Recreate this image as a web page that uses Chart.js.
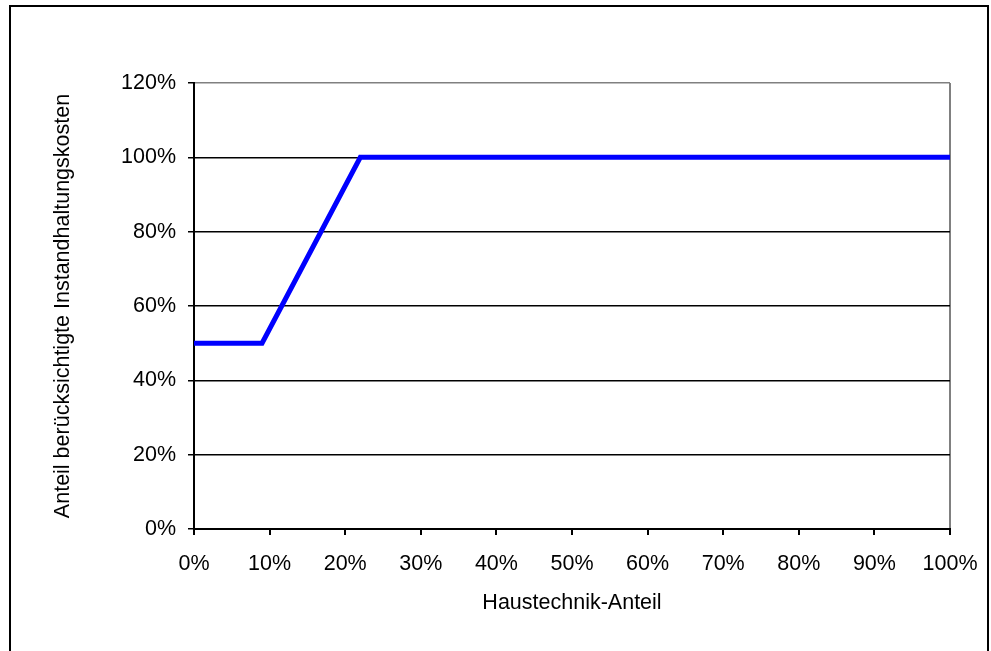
<!DOCTYPE html>
<html>
<head>
<meta charset="utf-8">
<script src="https://cdn.jsdelivr.net/npm/chart.js@4/dist/chart.umd.min.js"></script>
<style>
  html, body { margin: 0; padding: 0; background: #fff; overflow: hidden; }
  #wrap { position: relative; width: 991px; height: 651px; }
  #frame { position: absolute; left: 9px; top: 5px; width: 980px; height: 660px; border: 2px solid #000; box-sizing: border-box; pointer-events: none; }
  canvas { position: absolute; left: 0; top: 0; }
</style>
</head>
<body>
<div id="wrap">
  <canvas id="c" width="991" height="651"></canvas>
  <div id="frame"></div>
</div>
<script>
// Haustechnik-Anteil (x, %) and berücksichtigter Anteil der Instandhaltungskosten (y, %)
const haustechnikAnteil = [0, 9, 22, 100];
const kostenAnteil = [50, 50, 100, 100];

const xTicks = [0, 10, 20, 30, 40, 50, 60, 70, 80, 90, 100];
const yTicks = [0, 20, 40, 60, 80, 100, 120];

const xTitle = 'Haustechnik-Anteil';
const yTitle = 'Anteil berücksichtigte Instandhaltungskosten';

const font = { family: '"Liberation Sans", Arial, sans-serif', size: 21.5 };

const points = haustechnikAnteil.map((x, i) => ({ x, y: kostenAnteil[i] }));

new Chart(document.getElementById('c'), {
  type: 'line',
  data: {
    datasets: [{
      data: points,
      borderColor: '#0000ff',
      borderWidth: 5,
      borderJoinStyle: 'miter',
      pointRadius: 0,
      tension: 0,
      fill: false
    }]
  },
  options: {
    responsive: false,
    animation: false,
    events: [],
    layout: { padding: { left: 0, right: 41, top: 83, bottom: 0 } },
    plugins: { legend: { display: false }, tooltip: { enabled: false } },
    scales: {
      x: {
        type: 'linear',
        min: 0, max: 100,
        afterBuildTicks: s => { s.ticks = xTicks.map(v => ({ value: v })); },
        afterFit: s => { s.height = 122; s.paddingRight = 0; s.paddingLeft = 0; },
        ticks: {
          color: '#000', font, padding: 16,
          maxRotation: 0, autoSkip: false,
          callback: v => v + '%'
        },
        grid: {
          color: c => (c.tick && c.tick.value === 100) ? '#808080' : 'rgba(0,0,0,0)',
          tickColor: '#000',
          tickLength: 6,
          lineWidth: 2
        },
        border: { color: '#000', width: 2 },
        title: { display: true, text: xTitle, color: '#000', font, padding: { top: 0, bottom: 35 } }
      },
      y: {
        min: 0, max: 120,
        afterBuildTicks: s => { s.ticks = yTicks.map(v => ({ value: v })); },
        afterFit: s => { s.width = 194; s.paddingTop = 0; s.paddingBottom = 0; },
        ticks: {
          color: '#000', font, padding: 12,
          autoSkip: false,
          callback: v => v + '%'
        },
        grid: {
          color: c => (c.tick && c.tick.value === 120) ? '#808080' : '#000',
          tickColor: '#000',
          tickLength: 6,
          lineWidth: 1.5
        },
        border: { color: '#000', width: 2 },
        title: { display: true, text: yTitle, color: '#000', font, padding: { top: 50, bottom: 0 } }
      }
    }
  }
});
</script>
</body>
</html>
